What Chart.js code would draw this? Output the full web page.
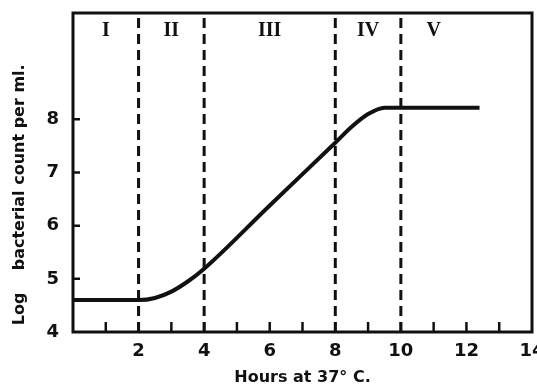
<!DOCTYPE html>
<html>
<head>
<meta charset="utf-8">
<script src="https://cdn.jsdelivr.net/npm/chart.js@4/dist/chart.umd.min.js"></script>
<style>
  html, body { margin: 0; padding: 0; background: #fff; }
  #wrap { width: 537px; height: 387px; }
</style>
</head>
<body>
<div id="wrap"><canvas id="growthChart"></canvas></div>
<script>
// growth curve (hours, log count)
var hours = [0, 2, 2.5, 3, 3.5, 4, 6, 8, 8.5, 9, 9.5, 12.4]
var logCount = [4.6, 4.6, 4.64, 4.76, 4.95, 5.19, 6.38, 7.56, 7.86, 8.1, 8.22, 8.22]

// phase boundaries (dashed) and phase names
var phaseBoundaries = [2, 4, 8, 10]
var phaseNames = ['I', 'II', 'III', 'IV', 'V']
var phaseCenters = [1, 3, 6, 9, 11]

var xTickLabels = [2, 4, 6, 8, 10, 12, 14]
var yTickLabels = [4, 5, 6, 7, 8]

var ink = '#111'
var numFont = { family: 'DejaVu Sans', size: 18, weight: 'bold' }
var gap = '\u00a0'

var datasets = [{
  data: hours.map(function (h, i) { return { x: h, y: logCount[i] } }),
  borderColor: ink,
  borderWidth: 4,
  pointRadius: 0,
  cubicInterpolationMode: 'monotone',
  fill: false
}]
phaseBoundaries.forEach(function (b) {
  datasets.push({
    data: [{ x: b, y: 4 }, { x: b, y: 10 }],
    borderColor: ink,
    borderWidth: 3,
    borderDash: [10, 6],
    pointRadius: 0,
    fill: false
  })
})

// frame, inward tick marks, phase names
var framePlugin = {
  id: 'frame',
  afterDatasetsDraw: function (chart) {
    var ctx = chart.ctx
    var a = chart.chartArea
    var xs = chart.scales.x
    var ys = chart.scales.y
    ctx.save()
    ctx.strokeStyle = ink
    ctx.lineWidth = 3
    ctx.strokeRect(a.left, a.top, a.right - a.left, a.bottom - a.top)
    ctx.lineWidth = 2.5
    ctx.beginPath()
    for (var h = 1; h < 14; h++) {
      var px = xs.getPixelForValue(h)
      ctx.moveTo(px, a.bottom)
      ctx.lineTo(px, a.bottom - 10)
    }
    for (var v = 5; v <= 8; v++) {
      var py = ys.getPixelForValue(v)
      ctx.moveTo(a.left, py)
      ctx.lineTo(a.left + 7, py)
    }
    ctx.stroke()
    ctx.fillStyle = ink
    ctx.font = 'bold 20px "Liberation Serif"'
    ctx.textAlign = 'center'
    ctx.textBaseline = 'middle'
    phaseNames.forEach(function (n, i) {
      ctx.fillText(n, xs.getPixelForValue(phaseCenters[i]), ys.getPixelForValue(9.66))
    })
    ctx.restore()
  }
}

new Chart(document.getElementById('growthChart').getContext('2d'), {
  type: 'line',
  data: { datasets: datasets },
  options: {
    responsive: true,
    maintainAspectRatio: false,
    animation: false,
    layout: { padding: { top: 13, right: 5, left: 0, bottom: 0 } },
    plugins: { legend: { display: false }, tooltip: { enabled: false } },
    scales: {
      x: {
        type: 'linear',
        min: 0,
        max: 14,
        grid: { display: false, drawTicks: false },
        border: { display: false },
        afterBuildTicks: function (s) {
          s.ticks = xTickLabels.map(function (v) { return { value: v } })
        },
        afterFit: function (s) { s.height = 55; s.paddingLeft = 0; s.paddingRight = 0 },
        ticks: { color: ink, font: numFont, padding: 9, maxRotation: 0, autoSkip: false },
        title: {
          display: true,
          text: 'Hours at 37° C.',
          color: ink,
          font: { family: 'DejaVu Sans', size: 16, weight: 'bold' },
          padding: { top: 1, bottom: 0 }
        }
      },
      y: {
        type: 'linear',
        min: 4,
        max: 10,
        grid: { display: false, drawTicks: false },
        border: { display: false },
        afterBuildTicks: function (s) {
          s.ticks = yTickLabels.map(function (v) { return { value: v } })
        },
        afterFit: function (s) { s.width = 73; s.paddingTop = 0; s.paddingBottom = 0 },
        ticks: { color: ink, font: numFont, padding: 14, autoSkip: false },
        title: {
          display: true,
          text: 'Log' + gap.repeat(4) + 'bacterial count per ml.' + gap.repeat(8),
          color: ink,
          font: { family: 'DejaVu Sans', size: 16, weight: 'bold' },
          padding: { top: 10, bottom: 0 }
        }
      }
    }
  },
  plugins: [framePlugin]
})
</script>
</body>
</html>
